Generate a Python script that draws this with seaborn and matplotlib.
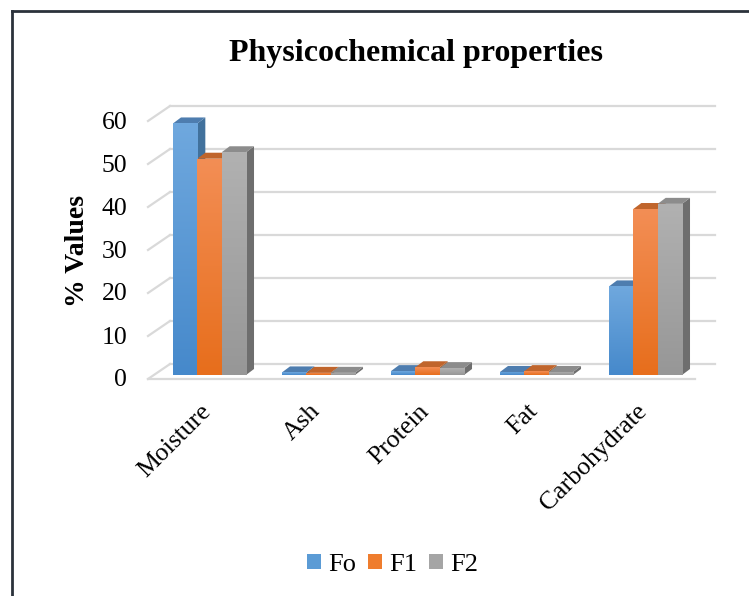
"""Physicochemical properties bar chart (Excel 3D column style)"""
import matplotlib
matplotlib.use("Agg")
import matplotlib.pyplot as plt
from matplotlib.colors import LinearSegmentedColormap
from matplotlib.lines import Line2D
from matplotlib.patches import Polygon, Rectangle
import matplotlib.transforms as mtransforms
import numpy as np
import pandas as pd
import seaborn as sns

PROPERTIES = ["Moisture", "Ash", "Protein", "Fat", "Carbohydrate"]
SAMPLES = ["Fo", "F1", "F2"]
FO = [58.5, 0.6, 0.9, 0.7, 20.6]
F1 = [50.3, 0.5, 1.8, 0.9, 38.6]
F2 = [51.8, 0.5, 1.6, 0.7, 39.8]
YTICKS = [0, 10, 20, 30, 40, 50, 60]

FRONT = {"Fo": "#5B9BD5", "F1": "#EF7D2E", "F2": "#A5A5A5"}
# gradient ends (bottom, top) for the front faces
SHADE = {"Fo": ("#4689CB", "#6FA8DE"),
         "F1": ("#E76E1C", "#F38E55"),
         "F2": ("#979797", "#B1B1B1")}
TOP = {"Fo": "#4E7DAF", "F1": "#C0652C", "F2": "#8C8C8C"}
SIDE = {"Fo": "#41719C", "F1": "#AE5A21", "F2": "#6E6E6E"}
GRID = "#D9D9D9"


def long_table():
    rows = []
    for sample, vals in zip(SAMPLES, [FO, F1, F2]):
        for prop, v in zip(PROPERTIES, vals):
            rows.append({"Property": prop, "Sample": sample, "Value": v})
    return pd.DataFrame(rows)


def px(fig, dx, dy):
    """Pixel offset transform"""
    return mtransforms.ScaledTranslation(dx / fig.dpi, dy / fig.dpi, fig.dpi_scale_trans)


def draw_wall(fig, ax):
    """Back wall gridlines with the slanted side-wall ticks"""
    trans = mtransforms.blended_transform_factory(ax.transAxes, ax.transData)
    back = trans + px(fig, 15, 11)
    for v in YTICKS:
        ax.add_line(Line2D([0, 1], [v, v], transform=back, color=GRID,
                           lw=1.6, clip_on=False, zorder=0))
        # slant from the side wall front edge to the back wall
        p0 = (trans + px(fig, -7, -4)).transform((0, v))
        p1 = back.transform((0, v))
        fig.add_artist(Line2D([p0[0], p1[0]], [p0[1], p1[1]], transform=None,
                              color=GRID, lw=1.6, zorder=0))
    # floor front edge
    p0 = (trans + px(fig, -7, -4)).transform((0, 0))
    p1 = (trans + px(fig, -5, -4)).transform((1, 0))
    fig.add_artist(Line2D([p0[0], p1[0]], [p0[1], p1[1]], transform=None,
                          color=GRID, lw=1.6, zorder=0))


def add_depth(ax, hue_order):
    """Gradient front, top and side faces for each bar seaborn drew"""
    dx = 8 / 109.0
    dy = 6 / 4.3
    grad = np.linspace(1, 0, 100).reshape(-1, 1)
    bars = [p for p in ax.patches if isinstance(p, Rectangle)]
    for i, bar in enumerate(bars):
        sample = hue_order[i // len(PROPERTIES)]
        x0, w, h = bar.get_x(), bar.get_width(), bar.get_height()
        x1 = x0 + w
        cmap = LinearSegmentedColormap.from_list(sample, SHADE[sample])
        im = ax.imshow(grad, extent=(x0, x1, 0, h), aspect="auto", cmap=cmap,
                       vmin=0, vmax=1, zorder=4.5, interpolation="bilinear")
        im.set_clip_path(bar)
        top = Polygon([(x0, h), (x1, h), (x1 + dx, h + dy), (x0 + dx, h + dy)],
                      closed=True, facecolor=TOP[sample], edgecolor="none",
                      zorder=3, clip_on=False)
        side = Polygon([(x1, 0), (x1 + dx, dy), (x1 + dx, h + dy), (x1, h)],
                       closed=True, facecolor=SIDE[sample], edgecolor="none",
                       zorder=2, clip_on=False)
        ax.add_patch(top)
        ax.add_patch(side)


def plot_properties():
    df = long_table()
    plt.rcParams["font.family"] = ["Liberation Serif", "DejaVu Serif"]

    fig = plt.figure(figsize=(7.49, 5.96), dpi=100)
    ax = fig.add_axes([155 / 749, 221 / 596, 545 / 749, 258 / 596])

    sns.barplot(data=df, x="Property", y="Value", hue="Sample",
                hue_order=SAMPLES, palette=FRONT, width=0.67, gap=0,
                saturation=1, ax=ax, legend=False, zorder=4)
    add_depth(ax, SAMPLES)
    ax.set_xlim(-0.5, 4.5)
    ax.set_ylim(0, 60)
    draw_wall(fig, ax)

    for s in ax.spines.values():
        s.set_visible(False)
    ax.set_facecolor("none")
    ax.set_xlabel("")
    ax.set_ylabel("")
    ax.set_yticks(YTICKS)
    ax.tick_params(axis="y", length=0, pad=20, labelsize=18.5)
    ax.tick_params(axis="x", length=0, pad=18, labelsize=18.5)
    for lbl in ax.get_yticklabels():
        lbl.set_transform(lbl.get_transform() + px(fig, 0, -3))
    for lbl in ax.get_xticklabels():
        lbl.set_rotation(45)
        lbl.set_ha("right")
        lbl.set_va("top")
        lbl.set_rotation_mode("anchor")
        lbl.set_transform(lbl.get_transform() + px(fig, -10, 0))

    fig.text(416 / 749, 1 - 53 / 596, "Physicochemical properties",
             ha="center", va="center", fontsize=23, fontweight="bold")
    fig.text(77 / 749, 1 - 251 / 596, "% Values", ha="center", va="center",
             rotation=90, fontsize=20, fontweight="bold")

    handles = [Rectangle((0, 0), 1, 1, facecolor=FRONT[s]) for s in SAMPLES]
    fig.legend(handles, SAMPLES, loc="center", bbox_to_anchor=(393 / 749, 1 - 565 / 596),
               ncol=3, frameon=False, fontsize=19, handlelength=0.5,
               handleheight=0.5, handletextpad=0.3, columnspacing=0.45)

    # chart border (left and top edges visible in the crop)
    fig.add_artist(Line2D([11.5 / 749, 11.5 / 749], [0, 1 - 10.5 / 596],
                          transform=fig.transFigure, color="#2B323B", lw=2))
    fig.add_artist(Line2D([11.5 / 749, 1], [1 - 10.5 / 596, 1 - 10.5 / 596],
                          transform=fig.transFigure, color="#2B323B", lw=2))

    fig.savefig("out.png", dpi=100)


if __name__ == "__main__":
    plot_properties()
